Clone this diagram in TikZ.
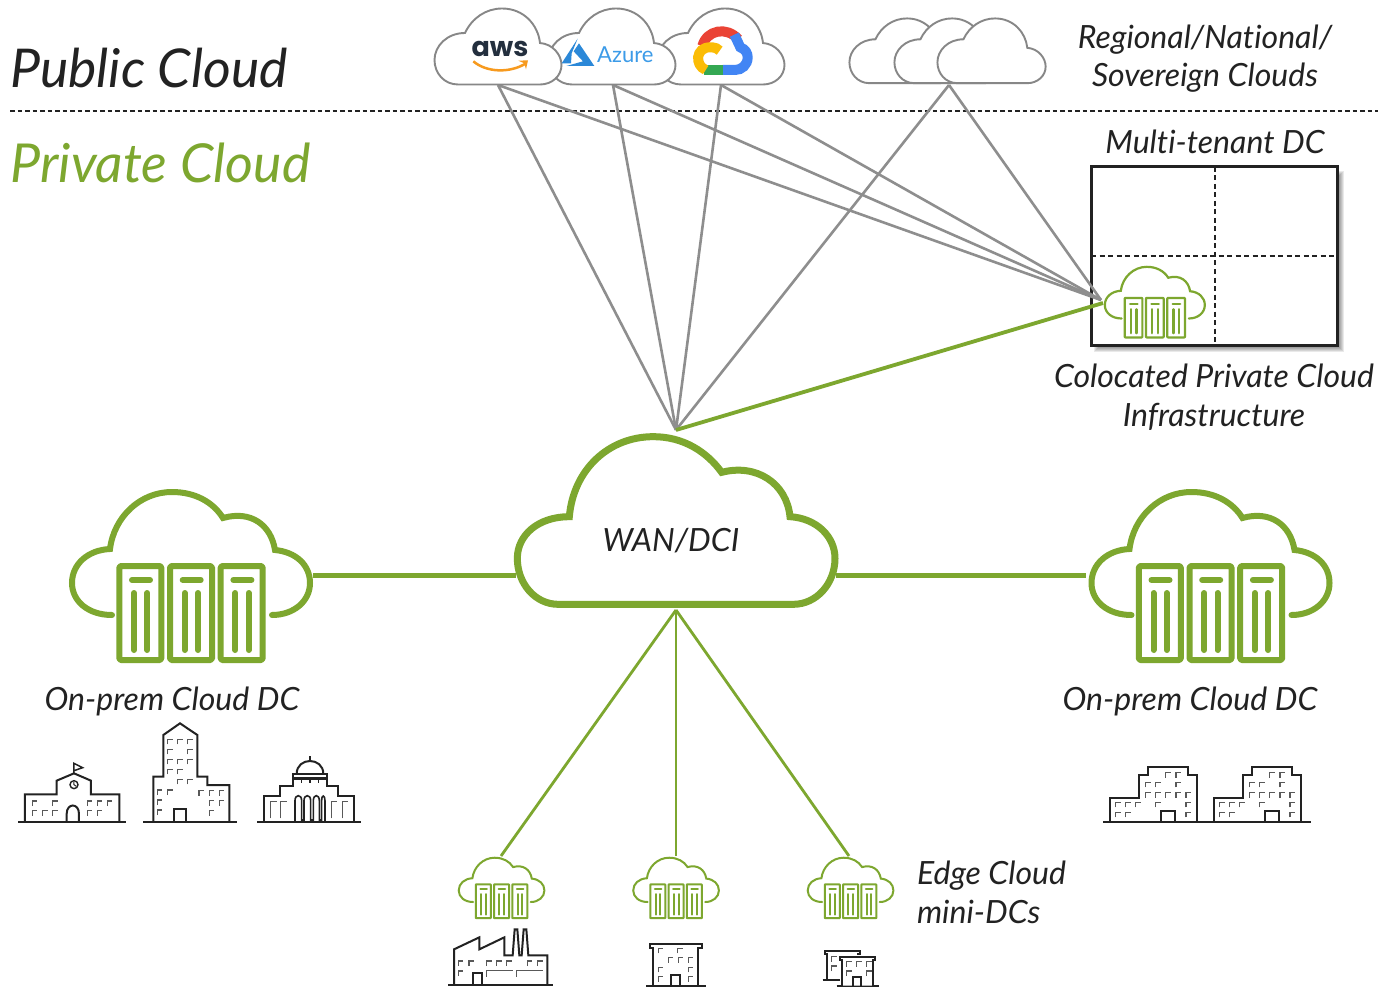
\documentclass[tikz,border=0pt]{standalone}
\usepackage{fontspec}
\setmainfont{Lato}[Ligatures={NoCommon}]
\newfontfamily\logofont{Poppins}
\definecolor{cgreen}{HTML}{7DA72F}
\definecolor{cgrey}{HTML}{8E8E8E}
\definecolor{cink}{HTML}{222222}
\definecolor{awsink}{HTML}{232F3E}
\definecolor{awsorange}{HTML}{F79A1E}
\definecolor{azlogo}{HTML}{2B88D8}
\definecolor{aztext}{HTML}{3C9BE8}
\tikzset{
  lbl/.style={inner sep=0pt,outer sep=0pt,text=cink,font=\itshape\fontsize{#1}{#1}\selectfont,anchor=base},
  two/.style={align=center},
  pubcloud/.style={draw=cgrey!95!black,fill=white,line width=#1},
  greyline/.style={draw=cgrey,line width=2.6pt},
  bld/.style={draw=cink,line width=2pt,line join=miter},
  wline/.style={draw=cink!75,line width=1.6pt},
  greenline/.style={draw=cgreen,line width=#1}
}
% private cloud icon, reference size 240x172
\newcommand{\privcloud}[5]{%
\begin{scope}[shift={(#1,#2)},scale=#3]
 \draw[cgreen,line width=#4,line cap=round,line join=miter]
  (42,125) .. controls (18,125) and (2,111) .. (2,93) .. controls (2,74) and (18,60) .. (40,59)
  .. controls (44,27) and (70,2) .. (102,2) .. controls (125,2) and (143,12) .. (153,28)
  .. controls (181,20) and (201,35) .. (205,60) .. controls (226,62) and (240,75) .. (240,93)
  .. controls (240,111) and (224,125) .. (202,125);
 \foreach \dx in {0,50.7,101.4}{
  \draw[cgreen,line width=#4,line join=round,rounded corners=#5] (49.3+\dx,76) rectangle (91.3+\dx,170);
  \draw[cgreen,line width=#4,line cap=round] (62+\dx,90) -- (80+\dx,90);
  \draw[cgreen,line width=#4,line cap=round] (64+\dx,103) -- (64+\dx,160);
  \draw[cgreen,line width=#4,line cap=round] (77.3+\dx,103) -- (77.3+\dx,160);
 }
\end{scope}}
% closed public cloud, reference size 128x77
\newcommand{\pubcl}[3]{%
\begin{scope}[shift={(#1,#2)},scale=#3]
 \draw[pubcloud=1.9pt]
  (24,76.5) .. controls (10,76.5) and (0.5,65) .. (0.5,52) .. controls (0.5,38) and (13,25) .. (31,25)
  .. controls (38,10) and (52,0.5) .. (68,0.5) .. controls (90,0.5) and (104,17) .. (106,35)
  .. controls (119,36) and (127.5,47) .. (127.5,57) .. controls (127.5,68) and (118,76.5) .. (106,76.5) -- cycle;
\end{scope}}
\newcommand{\wins}[1]{\foreach \p/\q in {#1}{\draw[wline] (\p,\q+15) -- (\p,\q) -- (\p+15,\q);}}
\begin{document}
\begin{tikzpicture}[x=1pt,y=-1pt]
\useasboundingbox (0,0) rectangle (1379,987);
\fill[white] (0,0) rectangle (1379,987);

% named connector ends
\coordinate (awsfoot) at (498,85);
\coordinate (azurefoot) at (613,85);
\coordinate (googlefoot) at (721,85);
\coordinate (regionalfoot) at (949,85);
\coordinate (wantop) at (676,430);
\coordinate (wanbottom) at (676,610);
\coordinate (colopoint) at (1101,300);
\coordinate (colopointb) at (1103,303);
\coordinate (leftdc) at (313,575);
\coordinate (wanleft) at (516,575);
\coordinate (wanright) at (836,575);
\coordinate (rightdc) at (1086,575);
\coordinate (edgeone) at (501,856);
\coordinate (edgetwo) at (676,856);
\coordinate (edgethree) at (849,856);
\coordinate (ruleleft) at (10,111);
\coordinate (ruleright) at (1378,111);

% dashed divider
\draw[cink,line width=1.1pt,dash pattern=on 4.5pt off 3pt] (ruleleft) -- (ruleright);

% multi-tenant box
\foreach \d in {0,1,...,6}{\fill[black,opacity=.085] (1094+\d,171+\d) rectangle (1344-\d,352-\d);}
\fill[white] (1091,167) rectangle (1337,345);
\draw[cink,line width=1.1pt,dash pattern=on 5pt off 3.5pt] (1215,167) -- (1215,345);
\draw[cink,line width=1.1pt,dash pattern=on 5pt off 3.5pt] (1091,256) -- (1337,256);
\draw[cink,line width=3pt] (1091,167) rectangle (1337,345);

% connectors
\foreach \a in {awsfoot,azurefoot,googlefoot,regionalfoot}{
  \draw[greyline] (\a) -- (wantop);
  \draw[greyline] (\a) -- (colopoint);
}
\draw[greenline=3.8pt] (wantop) -- (colopointb);
\draw[greenline=5pt] (leftdc) -- (wanleft);
\draw[greenline=5pt] (wanright) -- (rightdc);
\draw[greenline=2.8pt] (wanbottom) -- (edgeone);
\draw[greenline=2.8pt] (wanbottom) -- (edgetwo);
\draw[greenline=2.8pt] (wanbottom) -- (edgethree);

% public clouds
\pubcl{657}{8}{1}
\pubcl{548}{8}{1}
\pubcl{434}{8}{1}
\pubcl{849}{18}{.852}
\pubcl{894}{18}{.852}
\pubcl{937}{18}{.852}

% aws logo
\node[inner sep=0pt,anchor=base,text=awsink,font=\logofont\fontsize{27}{27}\selectfont] (awslogo) at (500,57) {\textbf{aws}};
\begin{scope}[shift={(420,0)},scale=1/3]
 \draw[awsorange,line width=2.5pt] (160,184) .. controls (200,218) and (270,220) .. (318,190);
 \fill[awsorange] (295,182) -- (324,181) -- (318,208) -- (313,190) -- cycle;
\end{scope}
% azure logo
\begin{scope}[shift={(555,20)},scale=1/3]
 \fill[azlogo] (68,56) -- (20,130) -- (48,130) -- (50,100) -- cycle;
 \fill[azlogo] (72,70) -- (118,138) -- (34,138) -- (84,124) -- (56,94) -- cycle;
\end{scope}
\node[inner sep=0pt,anchor=base west,text=aztext,font=\fontsize{22}{22}\selectfont] (azurelogo) at (597,63) {Azure};
% google logo
\begin{scope}[shift={(555,20)},scale=1/3,line width=10pt]
 \draw[color={rgb,255:red,234;green,67;blue,53}] (442,78) .. controls (455,30) and (515,18) .. (550,58);
 \draw[color={rgb,255:red,66;green,133;blue,244}] (538,44) -- (556,82) .. controls (572,88) and (578,100) .. (578,112) .. controls (578,135) and (560,150) .. (540,150) -- (503,150);
 \draw[color={rgb,255:red,52;green,168;blue,83}] (503,150) -- (448,150);
 \draw[color={rgb,255:red,251;green,188;blue,5}] (452,150) .. controls (418,135) and (422,82) .. (465,82) -- (472,82) .. controls (480,82) and (488,86) .. (494,92);
\end{scope}

% WAN cloud
\begin{scope}[shift={(500,420)},scale=1/3]
 \draw[cgreen,fill=white,line width=7pt,line join=miter]
  (175,553) .. controls (105,553) and (52,490) .. (52,415) .. controls (52,345) and (115,290) .. (208,290)
  .. controls (220,150) and (325,50) .. (460,50) .. controls (550,50) and (620,95) .. (665,157)
  .. controls (770,130) and (860,190) .. (870,290) .. controls (950,295) and (1005,350) .. (1005,415)
  .. controls (1005,490) and (950,553) .. (880,553) -- cycle;
\end{scope}

% private cloud icons
\privcloud{70}{490}{1}{6pt}{1.5pt}
\privcloud{1089.5}{490}{1}{6pt}{1.5pt}
\privcloud{1104}{266}{.42}{2.2pt}{.6pt}
\privcloud{458}{857}{.36}{2pt}{.5pt}
\privcloud{632.5}{857}{.36}{2pt}{.5pt}
\privcloud{807}{857}{.36}{2pt}{.5pt}

% buildings left
\begin{scope}[shift={(0,720)},scale=1/3]
 % school
 \draw[bld] (55,307) -- (378,307);
 \draw[bld] (75,307) -- (75,223) -- (170,223) -- (170,182) -- (222,160) -- (273,182) -- (273,223) -- (358,223) -- (358,307);
 \draw[bld] (200,307) -- (200,282) .. controls (200,248) and (237,248) .. (237,282) -- (237,307);
 \draw[bld,line width=1.5pt] (222,160) -- (222,130) -- (248,143) -- (222,152);
 \draw[bld,line width=1.4pt] (222,194) circle (12);
 \draw[bld,line width=1pt] (222,186) -- (222,194) -- (229,199);
 \wins{97/243,158/243,97/272,128/272,158/272,262/243,292/243,322/243,262/272,292/272}
 % tower
 \draw[bld] (430,307) -- (710,307);
 \draw[bld] (460,307) -- (460,170) -- (490,170) -- (490,45) -- (540,10) -- (592,45) -- (592,170) -- (622,170) -- (622,195) -- (688,195) -- (688,307);
 \draw[bld] (522,307) -- (522,268) -- (558,268) -- (558,307);
 \wins{503/58,533/58,563/58,503/88,563/88,503/118,533/118,563/118,503/148,533/148,533/178,563/178,472/210,503/210,597/212,628/212,658/212,472/240,628/242,658/242,472/270,628/272}
 % capitol
 \draw[bld] (772,307) -- (1082,307);
 \draw[bld] (792,307) -- (792,227) -- (840,227) -- (840,197) -- (878,197) -- (878,178) -- (982,178) -- (982,197) -- (1015,197) -- (1015,227) -- (1062,227) -- (1062,307);
 \draw[bld,fill=white] (878,162) rectangle (982,175);
 \draw[bld] (890,162) .. controls (890,110) and (970,110) .. (970,162);
 \draw[bld,line width=1.3pt] (930,108) -- (930,124);
 \draw[bld,line width=1.3pt] (905,178) -- (905,190) (930,178) -- (930,190) (955,178) -- (955,190);
 \draw[bld,line width=1.6pt] (885,307) -- (885,242) .. controls (885,222) and (905,222) .. (905,242) -- (905,300) -- (912,300) -- (912,242) .. controls (912,222) and (932,222) .. (932,242) -- (932,300) -- (940,300) -- (940,242) .. controls (940,222) and (958,222) .. (958,242) -- (958,300) -- (965,300) -- (965,242) .. controls (965,222) and (975,225) .. (975,242) -- (975,307);
 \draw[wline] (812,295) -- (812,245) -- (830,245);
 \draw[wline] (842,295) -- (842,245) -- (860,245);
 \draw[wline] (995,295) -- (995,245) -- (1012,245);
 \draw[wline] (1027,295) -- (1027,245) -- (1043,245);
\end{scope}

% buildings bottom
\begin{scope}[shift={(440,850)},scale=1/3]
 % factory
 \draw[bld] (25,405) -- (340,405);
 \draw[bld] (42,405) -- (42,298) -- (118,262) -- (118,298) -- (193,262) -- (193,316) -- (218,316) -- (224,238) -- (232,238) -- (238,316) -- (245,316) -- (251,238) -- (259,238) -- (265,316) -- (322,316) -- (322,405);
 \draw[bld] (100,405) -- (100,370) -- (127,370) -- (127,405);
 \wins{55/333,87/333,140/333,170/333,200/333,262/333,293/333,55/363}
 \draw[wline] (140,380) -- (140,362) -- (218,362);
 \draw[wline] (230,380) -- (230,362) -- (308,362);
 % office
 \draw[bld] (618,408) -- (798,408);
 \draw[bld] (638,408) -- (638,295) -- (630,295) -- (630,282) -- (785,282) -- (785,295) -- (775,295) -- (775,408);
 \draw[bld] (692,408) -- (692,375) -- (720,375) -- (720,408);
 \wins{655/295,713/295,685/323,715/323,745/323,655/352,745/352,655/380,745/380}
 % small pair
 \draw[bld] (1148,390) -- (1200,390);
 \draw[bld] (1160,390) -- (1160,312) -- (1155,312) -- (1155,303) -- (1260,303) -- (1260,312) -- (1252,312);
 \draw[bld,line width=1.7pt] (1190,407) -- (1318,407);
 \draw[bld,fill=white] (1207,407) -- (1207,330) -- (1200,330) -- (1200,320) -- (1305,320) -- (1305,330) -- (1300,330) -- (1300,407);
 \draw[bld] (1240,407) -- (1240,382) -- (1263,382) -- (1263,407);
 \wins{1175/320,1175/348,1220/335,1250/335,1280/335,1220/363,1280/363}
\end{scope}

% buildings right
\foreach \off in {0,104}{
\begin{scope}[shift={(1090+\off,750)},scale=1/3]
 \draw[bld] (40,217) -- (350,217);
 \draw[bld] (60,217) -- (60,143) -- (146,143) -- (146,75) -- (175,75) -- (175,52) -- (294,52) -- (294,75) -- (320,75) -- (320,217);
 \draw[bld] (213,217) -- (213,182) -- (255,182) -- (255,217);
 \wins{227/68,258/68,167/97,197/97,258/97,167/128,197/128,227/128,258/128,288/128,77/157,107/157,137/157,197/157,288/157,77/187,107/187,288/187}
\end{scope}}

% labels
\node[lbl=53.5] (publiclabel) at (149,88) {Public Cloud};
\node[lbl=53.7,text=cgreen] (privatelabel) at (160.5,183) {Private Cloud};
\node[lbl=32,two] (regionallabel) at (1205,87) {Regional/National/\\[6pt]Sovereign Clouds};
\node[lbl=32] (tenantlabel) at (1215,153.5) {Multi-tenant DC};
\node[lbl=32,two] (colocatedlabel) at (1214,426) {Colocated Private Cloud\\[7pt]Infrastructure};
\node[lbl=32] (wanlabel) at (671,551) {WAN/DCI};
\node[lbl=32] (leftlabel) at (172,710) {On-prem Cloud DC};
\node[lbl=32] (rightlabel) at (1190,710) {On-prem Cloud DC};
\node[lbl=32,align=left,anchor=base west] (edgelabel) at (917,923) {Edge Cloud\\[7pt]mini-DCs};
\end{tikzpicture}
\end{document}
